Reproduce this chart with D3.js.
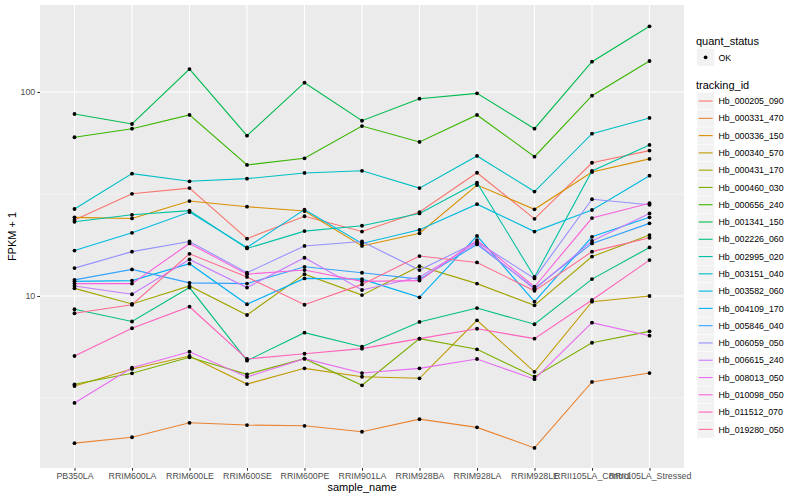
<!DOCTYPE html>
<html>
<head>
<meta charset="utf-8">
<script src="https://cdn.jsdelivr.net/npm/d3@7"></script>
<style>
  body { margin: 0; background: #fff; }
  text { font-family: "Liberation Sans", Arial, sans-serif; }
</style>
</head>
<body>
<div id="chart"></div>
<script>
var samples = ["PB350LA", "RRIM600LA", "RRIM600LE", "RRIM600SE", "RRIM600PE", "RRIM901LA",
  "RRIM928BA", "RRIM928LA", "RRIM928LE", "RRII105LA_Control", "RRII105LA_Stressed"];

var trackingIds = ["Hb_000205_090", "Hb_000331_470", "Hb_000336_150", "Hb_000340_570", "Hb_000431_170",
  "Hb_000460_030", "Hb_000656_240", "Hb_001341_150", "Hb_002226_060", "Hb_002995_020",
  "Hb_003151_040", "Hb_003582_060", "Hb_004109_170", "Hb_005846_040", "Hb_006059_050",
  "Hb_006615_240", "Hb_008013_050", "Hb_010098_050", "Hb_011512_070", "Hb_019280_050"];

// ggplot default hue palette for 20 levels
var colors = ["#F8766D", "#EA8331", "#D89000", "#C09B00", "#A3A500", "#7CAE00", "#39B600", "#00BB4E",
  "#00BF7D", "#00C1A3", "#00BFC4", "#00BAE0", "#00B0F6", "#35A2FF", "#9590FF", "#C77CFF",
  "#E76BF3", "#FA62DB", "#FF62BC", "#FF6C91"];

// FPKM + 1, one row per tracking_id, one column per sample
var fpkm = [
  [23.6, 31.7, 33.8, 19.1, 24.6, 20.7, 25.8, 40.2, 23.9, 45.0, 51.6],
  [1.90, 2.03, 2.39, 2.33, 2.31, 2.16, 2.49, 2.27, 1.80, 3.79, 4.19],
  [24.3, 24.0, 29.2, 27.4, 26.1, 17.6, 20.3, 35.0, 26.6, 40.5, 47.0],
  [3.62, 4.39, 5.08, 3.70, 4.42, 4.02, 3.95, 7.60, 4.25, 9.38, 10.0],
  [10.9, 9.14, 11.2, 8.07, 12.8, 10.1, 14.0, 11.5, 9.00, 15.6, 19.9],
  [3.69, 4.18, 5.01, 4.13, 4.93, 3.65, 6.18, 5.48, 4.02, 5.90, 6.71],
  [60.0, 66.1, 77.2, 43.9, 47.3, 68.1, 56.9, 77.2, 48.2, 95.9, 141.9],
  [78.0, 69.7, 129.6, 61.1, 111.1, 72.3, 92.7, 98.5, 66.1, 140.8, 210.0],
  [8.61, 7.50, 11.0, 4.82, 6.61, 5.64, 7.46, 8.73, 7.27, 12.1, 17.3],
  [23.1, 25.0, 26.2, 17.1, 20.8, 22.1, 25.4, 35.9, 12.4, 41.0, 55.0],
  [26.7, 39.8, 36.5, 37.6, 40.1, 41.1, 33.8, 48.6, 32.5, 62.5, 74.6],
  [16.7, 20.4, 25.8, 17.3, 26.5, 18.1, 21.1, 28.2, 20.7, 26.4, 38.9],
  [11.8, 11.9, 14.4, 9.11, 12.2, 12.1, 9.85, 19.7, 9.38, 19.5, 24.3],
  [12.0, 13.5, 11.6, 11.5, 13.9, 13.0, 12.1, 17.9, 10.9, 18.1, 22.7],
  [13.7, 16.5, 18.5, 13.0, 17.6, 18.5, 13.4, 18.4, 12.2, 29.8, 28.0],
  [11.2, 10.2, 15.1, 11.0, 15.4, 10.7, 12.4, 18.2, 10.8, 18.6, 25.4],
  [2.99, 4.45, 5.33, 4.01, 4.93, 4.19, 4.42, 4.91, 3.91, 7.40, 6.39],
  [11.5, 11.5, 18.1, 12.8, 13.4, 11.8, 11.9, 18.8, 11.1, 24.1, 28.5],
  [5.08, 6.95, 8.86, 4.91, 5.21, 5.52, 6.18, 6.91, 6.18, 9.56, 15.0],
  [8.23, 9.06, 16.1, 12.4, 9.06, 11.4, 15.7, 14.6, 10.6, 16.5, 19.3]
];

var yTicks = [10, 100];
var yMinor = [Math.pow(10, 0.5), Math.pow(10, 1.5)];

var W = 800, H = 500;
var margin = { top: 5, right: 116, bottom: 32, left: 40 };
var pw = W - margin.left - margin.right, ph = H - margin.top - margin.bottom;

var svg = d3.select("#chart").append("svg").attr("width", W).attr("height", H);
var g = svg.append("g").attr("transform", "translate(" + margin.left + "," + margin.top + ")");

var x = d3.scalePoint().domain(samples).range([0, pw]).padding(0.6);
var y = d3.scaleLog().domain([1.435, 267]).range([ph, 0]);

g.append("rect").attr("width", pw).attr("height", ph).attr("fill", "#EBEBEB");

// grid
g.selectAll(".minor").data(yMinor).enter().append("line")
  .attr("x1", 0).attr("x2", pw).attr("y1", d => y(d)).attr("y2", d => y(d))
  .attr("stroke", "#fff").attr("stroke-width", 0.55);
g.selectAll(".hmajor").data(yTicks).enter().append("line")
  .attr("x1", 0).attr("x2", pw).attr("y1", d => y(d)).attr("y2", d => y(d))
  .attr("stroke", "#fff").attr("stroke-width", 1.1);
g.selectAll(".vmajor").data(samples).enter().append("line")
  .attr("y1", 0).attr("y2", ph).attr("x1", d => x(d)).attr("x2", d => x(d))
  .attr("stroke", "#fff").attr("stroke-width", 1.1);

// axes
var yAxis = g.append("g").call(d3.axisLeft(y).tickValues(yTicks).tickSize(2.75).tickPadding(2).tickFormat(d3.format("d")));
var xAxis = g.append("g").attr("transform", "translate(0," + ph + ")")
  .call(d3.axisBottom(x).tickSize(2.75).tickPadding(2));
[xAxis, yAxis].forEach(function (a) {
  a.select(".domain").remove();
  a.selectAll(".tick line").attr("stroke", "#333333").attr("stroke-width", 1.07);
  a.selectAll(".tick text").attr("fill", "#4D4D4D").style("font-size", "8.8px")
    .style("font-family", "'Liberation Sans', Arial, sans-serif");
});

// lines
var line = d3.line().x((d, i) => x(samples[i])).y(d => y(d));
g.selectAll(".series").data(fpkm).enter().append("path")
  .attr("d", d => line(d)).attr("fill", "none")
  .attr("stroke", (d, i) => colors[i]).attr("stroke-width", 1.1);

// points
fpkm.forEach(function (row) {
  g.selectAll(null).data(row).enter().append("circle")
    .attr("cx", (d, i) => x(samples[i])).attr("cy", d => y(d))
    .attr("r", 1.9).attr("fill", "#000");
});

// axis titles
svg.append("text").attr("x", margin.left + pw / 2).attr("y", 491).attr("text-anchor", "middle")
  .style("font-size", "11px").attr("fill", "#000").text("sample_name");
svg.append("text").attr("transform", "translate(16," + (margin.top + ph / 2) + ") rotate(-90)")
  .attr("text-anchor", "middle").style("font-size", "11px").attr("fill", "#000").text("FPKM + 1");

// legend
var lg = svg.append("g").attr("transform", "translate(697,0)");
lg.append("text").attr("x", -1).attr("y", 44.5).style("font-size", "11px").text("quant_status");
lg.append("rect").attr("x", 0).attr("y", 48.6).attr("width", 17.3).attr("height", 17.3).attr("fill", "#F2F2F2");
lg.append("circle").attr("cx", 8.6).attr("cy", 57.3).attr("r", 1.9).attr("fill", "#000");
lg.append("text").attr("x", 21.5).attr("y", 60.5).style("font-size", "8.8px").text("OK");

lg.append("text").attr("x", -1).attr("y", 88.5).style("font-size", "11px").text("tracking_id");
var keys = lg.selectAll(".key").data(trackingIds).enter().append("g")
  .attr("transform", (d, i) => "translate(0," + (92.4 + i * 17.28) + ")");
keys.append("rect").attr("width", 17.3).attr("height", 17.3).attr("fill", "#F2F2F2")
  .attr("stroke", "#fff").attr("stroke-width", 0.5);
keys.append("line").attr("x1", 1.7).attr("x2", 15.6).attr("y1", 8.64).attr("y2", 8.64)
  .attr("stroke", (d, i) => colors[i]).attr("stroke-width", 1.1);
keys.append("text").attr("x", 21.5).attr("y", 11.8).style("font-size", "8.8px").attr("fill", "#000").text(d => d);
</script>
</body>
</html>
